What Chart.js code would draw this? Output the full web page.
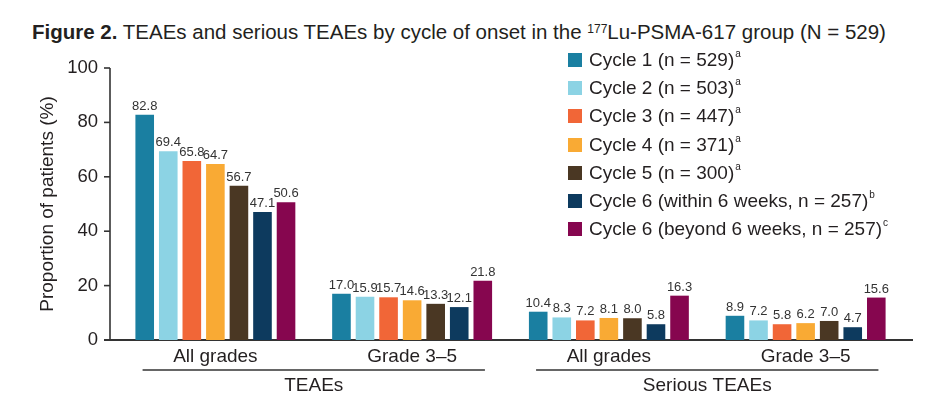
<!DOCTYPE html>
<html>
<head>
<meta charset="utf-8">
<script src="https://cdn.jsdelivr.net/npm/chart.js@4"></script>
<style>
  html, body { margin:0; padding:0; background:#fff; }
  body { width:946px; height:401px; position:relative; overflow:hidden; font-family:'Liberation Sans', Arial, Helvetica, sans-serif; color:#231f20; }
  #title { position:absolute; left:32px; top:20px; font-size:20.5px; white-space:nowrap; line-height:24px; }
  #title sup { font-size:12px; vertical-align:top; position:relative; top:-3px; }
  #c { position:absolute; left:0; top:0; }
  #legend { position:absolute; left:568px; top:46px; }
  .li { height:28.2px; display:flex; align-items:center; font-size:19px; white-space:nowrap; }
  .sw { width:14px; height:14px; margin-right:7px; flex:none; }
  .li sup { font-size:10px; vertical-align:top; position:relative; top:-1px; margin-left:1px; }
</style>
</head>
<body>
<div id="title"><b>Figure 2.</b> TEAEs and serious TEAEs by cycle of onset in the <sup>177</sup>Lu-PSMA-617 group (N = 529)</div>
<canvas id="c" width="946" height="401"></canvas>
<div id="legend"></div>
<script>
// ---- data ----
const categories = ['All grades', 'Grade 3–5', 'All grades', 'Grade 3–5'];
const groupLabels = ['TEAEs', 'Serious TEAEs'];
const groupSpans = [[0, 1], [2, 3]];
const seriesNames = [
  'Cycle 1 (n = 529)', 'Cycle 2 (n = 503)', 'Cycle 3 (n = 447)', 'Cycle 4 (n = 371)',
  'Cycle 5 (n = 300)', 'Cycle 6 (within 6 weeks, n = 257)', 'Cycle 6 (beyond 6 weeks, n = 257)'
];
const seriesNotes = ['a', 'a', 'a', 'a', 'a', 'b', 'c'];
const cycle1 = [82.8, 17.0, 10.4, 8.9];
const cycle2 = [69.4, 15.9, 8.3, 7.2];
const cycle3 = [65.8, 15.7, 7.2, 5.8];
const cycle4 = [64.7, 14.6, 8.1, 6.2];
const cycle5 = [56.7, 13.3, 8.0, 7.0];
const cycle6Within = [47.1, 12.1, 5.8, 4.7];
const cycle6Beyond = [50.6, 21.8, 16.3, 15.6];
const yTicks = [0, 20, 40, 60, 80, 100];

const seriesValues = [cycle1, cycle2, cycle3, cycle4, cycle5, cycle6Within, cycle6Beyond];
const colors = ['#1a7fa1', '#8cd3e4', '#f16637', '#f9aa34', '#4a3723', '#0d3a5e', '#86064f'];
const ink = '#231f20';
const FONT = "'Liberation Sans', Arial, Helvetica, sans-serif";
Chart.defaults.font.family = FONT;
Chart.defaults.color = ink;

const axesPlugin = {
  id: 'axesPlugin',
  beforeDatasetsDraw(chart) {
    const ctx = chart.ctx, y = chart.scales.y;
    const ax = 110;
    ctx.save();
    ctx.strokeStyle = '#333';
    ctx.lineWidth = 1.6;
    ctx.beginPath();
    ctx.moveTo(ax, y.getPixelForValue(100));
    ctx.lineTo(ax, y.getPixelForValue(0));
    ctx.stroke();
    yTicks.forEach(v => {
      const py = y.getPixelForValue(v);
      ctx.beginPath();
      ctx.moveTo(ax - 6, py);
      ctx.lineTo(ax, py);
      ctx.stroke();
    });
    ctx.lineWidth = 2;
    ctx.beginPath();
    ctx.moveTo(ax - 6, y.getPixelForValue(0));
    ctx.lineTo(chart.chartArea.right + 9, y.getPixelForValue(0));
    ctx.stroke();
    ctx.restore();
  }
};

const valueLabels = {
  id: 'valueLabels',
  afterDatasetsDraw(chart) {
    const ctx = chart.ctx;
    ctx.save();
    ctx.font = '13px ' + FONT;
    ctx.fillStyle = '#333';
    ctx.textAlign = 'center';
    ctx.textBaseline = 'alphabetic';
    chart.data.datasets.forEach((ds, i) => {
      chart.getDatasetMeta(i).data.forEach((bar, j) => {
        ctx.fillText(ds.data[j].toFixed(1), bar.x, bar.y - 5);
      });
    });
    ctx.restore();
  }
};

const groupBrackets = {
  id: 'groupBrackets',
  afterDraw(chart) {
    const ctx = chart.ctx, x = chart.scales.x;
    const cw = (x.getPixelForValue(1) - x.getPixelForValue(0));
    ctx.save();
    ctx.strokeStyle = '#333';
    ctx.lineWidth = 1.5;
    ctx.fillStyle = ink;
    ctx.font = '19px ' + FONT;
    ctx.textAlign = 'center';
    ctx.textBaseline = 'middle';
    groupSpans.forEach((span, g) => {
      const x0 = x.getPixelForValue(span[0]) - cw * 0.37;
      const x1 = x.getPixelForValue(span[1]) + cw * 0.37;
      ctx.beginPath();
      ctx.moveTo(x0, 370);
      ctx.lineTo(x1, 370);
      ctx.stroke();
      ctx.fillText(groupLabels[g], (x0 + x1) / 2, 386);
    });
    ctx.restore();
  }
};

const chart = new Chart(document.getElementById('c'), {
  type: 'bar',
  data: {
    labels: categories,
    datasets: seriesValues.map((vals, i) => ({
      label: seriesNames[i],
      data: vals,
      backgroundColor: colors[i],
      borderWidth: 0,
      categoryPercentage: 0.838,
      barPercentage: 0.79
    }))
  },
  options: {
    responsive: false,
    animation: false,
    devicePixelRatio: 1,
    layout: { padding: { top: 68, right: 42, left: 0, bottom: 0 } },
    plugins: { legend: { display: false }, tooltip: { enabled: false }, title: { display: false } },
    scales: {
      x: {
        grid: { display: false, drawTicks: false },
        border: { display: false },
        ticks: { font: { size: 19 }, color: ink, padding: 5, maxRotation: 0 },
        afterFit(s) { s.height = 61; }
      },
      y: {
        min: 0, max: 100,
        afterBuildTicks(s) { s.ticks = yTicks.map(v => ({ value: v })); },
        grid: { display: false, drawTicks: false },
        border: { display: false },
        ticks: { font: { size: 18.5 }, color: ink, padding: 19 },
        title: { display: true, text: 'Proportion of patients (%)', font: { size: 19 }, color: ink, padding: { top: 36, bottom: 0 } },
        afterFit(s) { s.width = 117; }
      }
    }
  },
  plugins: [axesPlugin, valueLabels, groupBrackets]
});

// legend built from the chart's datasets
const legend = document.getElementById('legend');
chart.data.datasets.forEach((ds, i) => {
  const row = document.createElement('div');
  row.className = 'li';
  const sw = document.createElement('span');
  sw.className = 'sw';
  sw.style.background = ds.backgroundColor;
  const t = document.createElement('span');
  t.textContent = ds.label;
  const s = document.createElement('sup');
  s.textContent = seriesNotes[i];
  t.appendChild(s);
  row.appendChild(sw);
  row.appendChild(t);
  legend.appendChild(row);
});
</script>
</body>
</html>
